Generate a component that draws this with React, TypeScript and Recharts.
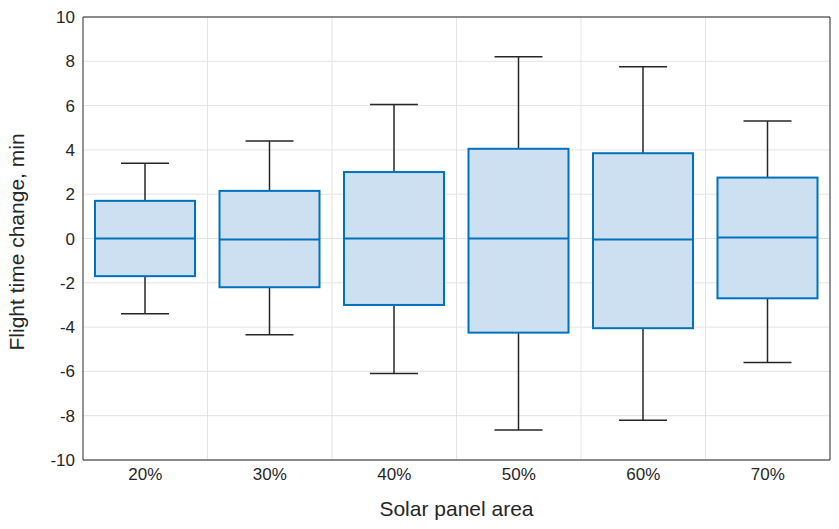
import React from 'react';
import { ComposedChart, Bar, XAxis, YAxis, CartesianGrid, ReferenceLine } from 'recharts';

const categories = ['20%', '30%', '40%', '50%', '60%', '70%'];
const whiskerHigh = [3.4, 4.4, 6.05, 8.2, 7.75, 5.3];
const q3 = [1.7, 2.15, 3.0, 4.05, 3.85, 2.75];
const median = [0, -0.05, 0, 0, -0.05, 0.05];
const q1 = [-1.7, -2.2, -3.0, -4.25, -4.05, -2.7];
const whiskerLow = [-3.4, -4.35, -6.1, -8.65, -8.2, -5.6];
const yTicks = [-10, -8, -6, -4, -2, 0, 2, 4, 6, 8, 10];

const data = categories.map((c, i) => ({
  pos: i + 1,
  name: c,
  box: [q1[i], q3[i]],
  hi: whiskerHigh[i],
  lo: whiskerLow[i],
  med: median[i],
  q1: q1[i],
  q3: q3[i],
}));

const BoxShape = (props: any) => {
  const { x, y, width, height, payload } = props;
  const ppu = height / (payload.q3 - payload.q1);
  const toY = (v: number) => y + (payload.q3 - v) * ppu;
  const cx = x + width / 2;
  const capW = 24;
  const dark = '#262626';
  return (
    <g>
      <line x1={cx} x2={cx} y1={toY(payload.hi)} y2={y} stroke={dark} strokeWidth={1.5} />
      <line x1={cx} x2={cx} y1={y + height} y2={toY(payload.lo)} stroke={dark} strokeWidth={1.5} />
      <line x1={cx - capW} x2={cx + capW} y1={toY(payload.hi)} y2={toY(payload.hi)} stroke={dark} strokeWidth={1.5} />
      <line x1={cx - capW} x2={cx + capW} y1={toY(payload.lo)} y2={toY(payload.lo)} stroke={dark} strokeWidth={1.5} />
      <rect x={x} y={y} width={width} height={height} fill="#cce0f1" stroke="#0072BD" strokeWidth={2} />
      <line x1={x} x2={x + width} y1={toY(payload.med)} y2={toY(payload.med)} stroke="#0072BD" strokeWidth={2} />
    </g>
  );
};

export default function App() {
  return (
    <div style={{ position: 'absolute', left: 0, top: 0, fontFamily: 'Liberation Sans, Arial, sans-serif' }}>
      <ComposedChart width={839} height={529} data={data} margin={{ top: 17, right: 9, left: 23, bottom: 19 }}>
        <CartesianGrid vertical={false} stroke="#e3e3e3" />
        {[1.5, 2.5, 3.5, 4.5, 5.5].map((v) => (
          <ReferenceLine key={v} x={v} stroke="#e3e3e3" />
        ))}
        <XAxis
          dataKey="pos"
          type="number"
          domain={[0.5, 6.5]}
          ticks={[1, 2, 3, 4, 5, 6]}
          tickFormatter={(v: number) => categories[v - 1]}
          tick={{ fill: '#262626', fontSize: 17 }}
          tickLine={false}
          axisLine={{ stroke: '#262626' }}
          height={50}
          label={{ value: 'Solar panel area', position: 'insideBottom', offset: -6, fill: '#262626', fontSize: 21 }}
        />
        <YAxis
          type="number"
          domain={[-10, 10]}
          ticks={yTicks}
          interval={0}
          tick={{ fill: '#262626', fontSize: 17 }}
          tickLine={false}
          axisLine={{ stroke: '#262626' }}
          width={60}
          label={{ value: 'Flight time change, min', angle: -90, position: 'insideLeft', offset: -6, dy: 112, fill: '#262626', fontSize: 21 }}
        />
        <ReferenceLine y={10} stroke="#262626" />
        <ReferenceLine x={6.5} stroke="#262626" />
        <Bar dataKey="box" barSize={100} shape={BoxShape} isAnimationActive={false} />
      </ComposedChart>
    </div>
  );
}
